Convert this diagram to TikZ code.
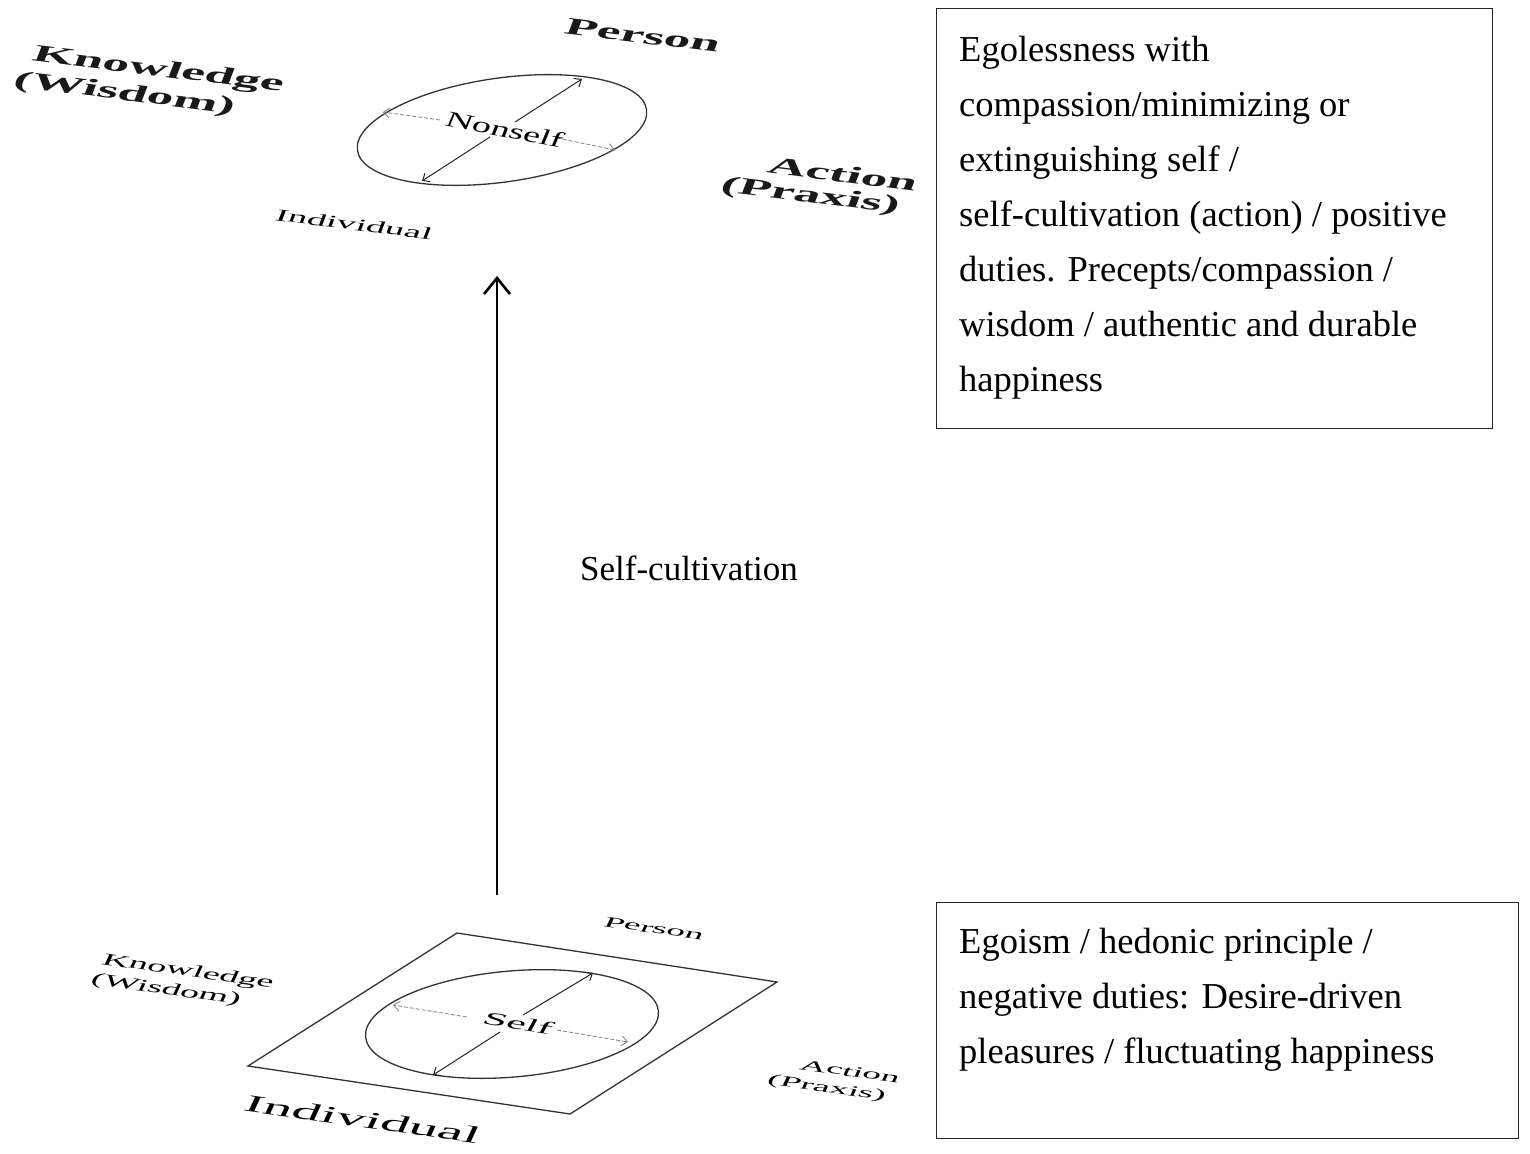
\documentclass[tikz,border=0pt]{standalone}
\usepackage{fontspec}
\setmainfont{Liberation Serif}
\usetikzlibrary{arrows.meta}
\begin{document}
\begin{tikzpicture}[x=1pt,y=-1pt,
  boxstyle/.style={draw=black!85, line width=1.4pt, anchor=north west, inner sep=0pt},
  boxtext/.style={anchor=north west, inner sep=0pt, align=left, font=\fontsize{36.5}{55}\selectfont},
  toplab/.style={anchor=base, inner sep=0pt, rotate=-7, xslant=0.25, xscale=2.2, text=black!90, font=\bfseries\fontsize{24}{24}\selectfont},
  topind/.style={anchor=base, inner sep=0pt, rotate=-7, xslant=0.25, xscale=2.25, font=\fontsize{17}{17}\selectfont},
  botlab/.style={anchor=base, inner sep=0pt, rotate=-8, xslant=0.3, xscale=#1},
  ell/.style={draw=black!80, line width=1.3pt},
  plane/.style={draw=black!80, line width=1.3pt, line join=miter},
  diag/.style={draw=black!85, line width=1pt, -{Straight Barb[length=6pt,width=10pt]}},
  hor/.style={draw=black!50, line width=0.8pt, dash pattern=on 4pt off 2pt, -{Straight Barb[length=6pt,width=10pt]}},
  cultarrow/.style={draw=black, line width=2.6pt, -{Straight Barb[length=16pt,width=26pt]}}
]
\useasboundingbox (0,0) rectangle (1530,1153);

% ---- right boxes
\node[boxstyle, minimum width=556pt, minimum height=420pt] (topbox) at (936,8) {};
\node[boxtext] (toptext) at (959,36) {Egolessness with\\compassion/minimizing or\\extinguishing self /\\self-cultivation (action) / positive\\duties. Precepts/compassion /\\wisdom / authentic and durable\\happiness};
\node[boxstyle, minimum width=582pt, minimum height=236pt] (botbox) at (936,902) {};
\node[boxtext] (bottext) at (959,928) {Egoism / hedonic principle /\\negative duties: Desire-driven\\pleasures / fluctuating happiness};

% ---- central arrow
\coordinate (cultstart) at (497,895);
\coordinate (cultend) at (497,276);
\draw[cultarrow] (cultstart) -- (cultend);
\node[anchor=base west, inner sep=0pt, font=\fontsize{35}{35}\selectfont] (cultlabel) at (580,580) {Self-cultivation};

% ---- upper (Nonself) figure
\draw[ell, rotate around={8:(502,130)}] (502,130) ellipse [x radius=146, y radius=52];
\coordinate (nu0) at (515,122); \coordinate (nu1) at (582,79);
\coordinate (nd0) at (490,137); \coordinate (nd1) at (422,181);
\coordinate (nl0) at (440,120); \coordinate (nl1) at (383,112);
\coordinate (nr0) at (557,138); \coordinate (nr1) at (615,150);
\draw[diag] (nu0) -- (nu1);
\draw[diag] (nd0) -- (nd1);
\draw[hor] (nl0) -- (nl1);
\draw[hor] (nr0) -- (nr1);
\node[anchor=base, inner sep=0pt, rotate=-11, xslant=0.2, xscale=1.7, font=\fontsize{22}{22}\selectfont] (nonself) at (502,137) {Nonself};

\node[toplab] (tknow) at (156,76) {Knowledge};
\node[toplab] (twis) at (122,100) {(Wisdom)};
\node[toplab] (tpers) at (640,43) {Person};
\node[toplab] (tact) at (840,182) {Action};
\node[toplab] (tprax) at (808,202) {(Praxis)};
\node[topind] (tind) at (352,230) {Individual};

% ---- lower (Self) figure
\coordinate (p1) at (248,1066); \coordinate (p2) at (457,933);
\coordinate (p3) at (777,982); \coordinate (p4) at (570,1114);
\draw[plane] (p1) -- (p2) -- (p3) -- (p4) -- cycle;
\draw[ell, rotate around={5:(512,1024)}] (512,1024) ellipse [x radius=147, y radius=53];
\coordinate (su0) at (523,1015); \coordinate (su1) at (593,973);
\coordinate (sd0) at (500,1032); \coordinate (sd1) at (433,1075);
\coordinate (sl0) at (467,1017); \coordinate (sl1) at (393,1005);
\coordinate (sr0) at (557,1030); \coordinate (sr1) at (628,1042);
\draw[diag] (su0) -- (su1);
\draw[diag] (sd0) -- (sd1);
\draw[hor] (sl0) -- (sl1);
\draw[hor] (sr0) -- (sr1);
\node[botlab=2.4, rotate=-2, font=\fontsize{18}{18}\selectfont] (self) at (515,1029) {Self};

\node[botlab=2.2, font=\fontsize{17}{17}\selectfont] (bknow) at (186,976) {Knowledge};
\node[botlab=2.2, font=\fontsize{17}{17}\selectfont] (bwis) at (164,994) {(Wisdom)};
\node[botlab=2.45, font=\fontsize{15}{15}\selectfont] (bpers) at (652,933) {Person};
\node[botlab=2.45, font=\fontsize{15}{15}\selectfont] (bact) at (848,1076) {Action};
\node[botlab=2.5, font=\fontsize{15}{15}\selectfont] (bprax) at (825,1092) {(Praxis)};
\node[botlab=2.4, font=\fontsize{24}{24}\selectfont] (bind) at (359,1127) {Individual};
\end{tikzpicture}
\end{document}
